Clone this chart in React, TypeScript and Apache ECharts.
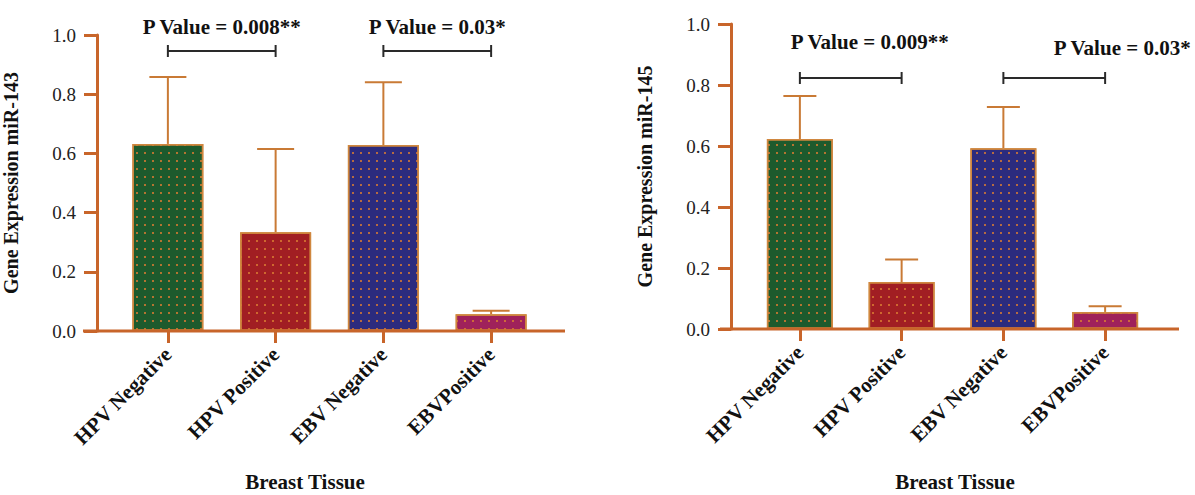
import React, { useEffect, useRef } from "react";
import * as echarts from "echarts";

const categories = ["HPV Negative", "HPV Positive", "EBV Negative", "EBVPositive"];
const yTicks = [0, 0.2, 0.4, 0.6, 0.8, 1.0];

// miR-143 (left)
const mir143Mean = [0.632, 0.334, 0.628, 0.057];
const mir143Err = [0.226, 0.281, 0.212, 0.011];
// miR-145 (right)
const mir145Mean = [0.623, 0.154, 0.593, 0.056];
const mir145Err = [0.141, 0.074, 0.135, 0.019];

const barColors = ["#1d5a2d", "#a11e23", "#2c2b7e", "#9f215b"];
const pLabels = [
  ["P Value = 0.008**", "P Value = 0.03*"],
  ["P Value = 0.009**", "P Value = 0.03*"],
];

const AXIS = "#c8652a";
const ERR = "#c97a35";
const SERIF = "'Liberation Serif', 'Times New Roman', serif";

function barSeries(idx: number, values: number[], barWidth: number) {
  return {
    type: "bar",
    xAxisIndex: idx,
    yAxisIndex: idx,
    barWidth,
    data: values.map((v, i) => ({
      value: v,
      itemStyle: {
        color: barColors[i],
        borderColor: "#d0873f",
        borderWidth: 1.5,
        decal: {
          symbol: "rect",
          symbolSize: 1,
          dashArrayX: [[1.7, 5.1]],
          dashArrayY: [1.7, 5.1],
          color: "rgba(218,122,50,0.8)",
          rotation: 0,
        },
      },
    })),
    z: 2,
  };
}

function errSeries(idx: number, means: number[], errs: number[], capW: number) {
  return {
    type: "custom",
    xAxisIndex: idx,
    yAxisIndex: idx,
    data: means.map((m, i) => [i, m, m + errs[i]]),
    z: 1,
    renderItem: (params: any, api: any) => {
      const x = api.value(0);
      const lo = api.coord([x, api.value(1)]);
      const hi = api.coord([x, api.value(2)]);
      const st = { stroke: ERR, lineWidth: 2 };
      return {
        type: "group",
        children: [
          { type: "line", shape: { x1: lo[0], y1: lo[1], x2: hi[0], y2: hi[1] }, style: st },
          { type: "line", shape: { x1: hi[0] - capW / 2, y1: hi[1], x2: hi[0] + capW / 2, y2: hi[1] }, style: st },
        ],
      };
    },
  };
}

export default function App() {
  const ref = useRef<HTMLDivElement>(null);
  useEffect(() => {
    document.body.style.margin = "0";
    const chart = echarts.init(ref.current!, null, { renderer: "svg" });
    const grids = [
      { left: 114, right: 650, top: 35, bottom: 164 },
      { left: 749, right: 39, top: 24, bottom: 166 },
    ];
    const yNames = ["Gene Expression miR-143", "Gene Expression miR-145"];
    const option: any = {
      animation: false,
      grid: grids,
      xAxis: grids.map((_, i) => ({
        type: "category",
        gridIndex: i,
        data: categories,
        axisLine: { show: false },
        axisTick: { show: true, alignWithLabel: true, length: 12, lineStyle: { color: AXIS, width: 3 } },
        axisLabel: {
          rotate: 45,
          interval: 0,
          margin: 20,
          color: "#111",
          fontFamily: SERIF,
          fontWeight: "bold",
          fontSize: 21,
        },
      })),
      yAxis: grids.map((_, i) => ({
        type: "value",
        gridIndex: i,
        min: 0,
        max: 1,
        interval: 0.2,
        offset: i === 0 ? 17 : 18,
        splitLine: { show: false },
        axisLine: { show: true, lineStyle: { color: AXIS, width: 3 } },
        axisTick: { show: true, length: 13, lineStyle: { color: AXIS, width: 3 } },
        axisLabel: {
          margin: 21,
          color: "#222",
          fontFamily: SERIF,
          fontSize: 19,
          formatter: (v: number) => (yTicks.includes(Math.round(v * 10) / 10) ? v.toFixed(1) : ""),
        },
        name: yNames[i],
        nameLocation: "middle",
        nameGap: 76,
        nameTextStyle: { color: "#111", fontFamily: SERIF, fontWeight: "bold", fontSize: 20 },
      })),
      series: [
        barSeries(0, mir143Mean, 71),
        errSeries(0, mir143Mean, mir143Err, 37),
        barSeries(1, mir145Mean, 66),
        errSeries(1, mir145Mean, mir145Err, 33),
      ],
    };
    chart.setOption(option);

    // Annotations positioned through the axes' scales
    const px = (g: number, cat: number, val: number) =>
      chart.convertToPixel({ xAxisIndex: g, yAxisIndex: g } as any, [cat, val]) as number[];
    const bracketVals = [0.946, 0.823];
    const textVals = [[1.027, 1.027], [0.94, 0.922]];
    const textDx = [[0, 0], [19, 68]];
    const xLineExt = [[83, 565], [720, 1179]];
    const titleX = [305, 955];
    const elements: any[] = [];
    const dark = { stroke: "#2a2a2a", lineWidth: 2 };
    for (let g = 0; g < 2; g++) {
      const base = px(g, 0, 0)[1];
      elements.push({
        type: "line",
        shape: { x1: xLineExt[g][0], y1: base, x2: xLineExt[g][1], y2: base },
        style: { stroke: AXIS, lineWidth: 3 },
        z: 10,
      });
      elements.push({
        type: "text",
        x: titleX[g],
        y: 482,
        style: {
          text: "Breast Tissue",
          fill: "#111",
          font: `bold 21px ${SERIF}`,
          textAlign: "center",
          textVerticalAlign: "middle",
        },
      });
      for (let k = 0; k < 2; k++) {
        const a = px(g, 2 * k, bracketVals[g]);
        const b = px(g, 2 * k + 1, bracketVals[g]);
        const y = a[1];
        elements.push({ type: "line", shape: { x1: a[0], y1: y, x2: b[0], y2: y }, style: dark });
        elements.push({ type: "line", shape: { x1: a[0], y1: y - 6, x2: a[0], y2: y + 6 }, style: dark });
        elements.push({ type: "line", shape: { x1: b[0], y1: y - 6, x2: b[0], y2: y + 6 }, style: dark });
        const ty = px(g, 0, textVals[g][k])[1];
        elements.push({
          type: "text",
          x: (a[0] + b[0]) / 2 + textDx[g][k],
          y: ty,
          style: {
            text: pLabels[g][k],
            fill: "#111",
            font: `bold 21px ${SERIF}`,
            textAlign: "center",
            textVerticalAlign: "middle",
          },
        });
      }
    }
    chart.setOption({ graphic: elements });
    return () => chart.dispose();
  }, []);
  return <div ref={ref} style={{ width: 1195, height: 495 }} />;
}
